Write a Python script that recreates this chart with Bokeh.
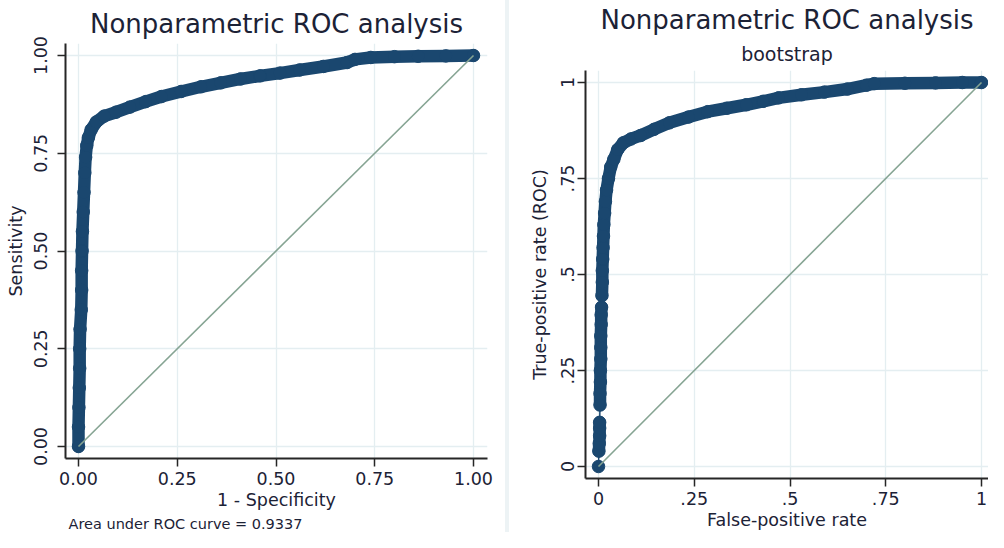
from bokeh.plotting import figure
from bokeh.models import FixedTicker, Title, Spacer, Range1d
from bokeh.layouts import row
from bokeh.embed import file_html
from bokeh.resources import INLINE

# ---------------- data ----------------
left_fpr = [0.000, 0.000, 0.001, 0.002, 0.003, 0.003, 0.004, 0.007, 0.008, 0.008, 0.009,
            0.010, 0.012, 0.014, 0.016, 0.018, 0.021, 0.025, 0.032, 0.045, 0.065, 0.095,
            0.130, 0.170, 0.210, 0.260, 0.310, 0.360, 0.410, 0.460, 0.510, 0.560, 0.620,
            0.680, 0.700, 0.740, 0.800, 0.860, 0.930, 1.000]
left_tpr = [0.000, 0.050, 0.100, 0.150, 0.200, 0.250, 0.300, 0.350, 0.400, 0.450, 0.500,
            0.550, 0.600, 0.650, 0.700, 0.740, 0.770, 0.790, 0.810, 0.830, 0.845, 0.855,
            0.868, 0.882, 0.895, 0.908, 0.920, 0.930, 0.940, 0.948, 0.955, 0.963, 0.972,
            0.982, 0.990, 0.995, 0.997, 0.998, 0.999, 1.000]

right_fpr = [0.000,
             0.001, 0.002, 0.003, 0.003, 0.003,
             0.004, 0.004, 0.005, 0.005, 0.006, 0.006, 0.006, 0.007, 0.007, 0.008,
             0.009, 0.010, 0.010, 0.011, 0.012, 0.013, 0.014, 0.016, 0.018, 0.021,
             0.026, 0.032, 0.040, 0.050, 0.065, 0.085, 0.110, 0.145, 0.185, 0.235,
             0.285, 0.335, 0.386, 0.430, 0.470, 0.530, 0.590, 0.650, 0.700, 0.720,
             0.800, 0.880, 0.950, 1.000]
right_tpr = [0.000,
             0.040, 0.060, 0.080, 0.100, 0.115,
             0.160, 0.190, 0.220, 0.250, 0.280, 0.310, 0.340, 0.370, 0.395, 0.415,
             0.445, 0.480, 0.510, 0.540, 0.570, 0.600, 0.630, 0.660, 0.690, 0.720,
             0.750, 0.780, 0.800, 0.825, 0.843, 0.853, 0.862, 0.878, 0.895, 0.910,
             0.924, 0.933, 0.942, 0.951, 0.960, 0.968, 0.975, 0.983, 0.993, 0.997,
             0.998, 0.999, 1.000, 1.000]
# cluster id of each bootstrap point (runs of points that touch each other)
right_cluster = [0,
                 1, 1, 1, 1, 1,
                 2, 2, 2, 2, 2, 2, 2, 2, 2, 2,
                 3, 3, 3, 3, 3, 3, 3, 3, 3, 3,
                 3, 3, 3, 3, 3, 3, 3, 3, 3, 3,
                 3, 3, 3, 3, 3, 3, 3, 3, 3, 3,
                 3, 3, 3, 3]

ticks = [0, 0.25, 0.5, 0.75, 1.0]
left_tick_labels = ["0.00", "0.25", "0.50", "0.75", "1.00"]
right_tick_labels = ["0", ".25", ".5", ".75", "1"]
diag = [0, 1]
auc_note = "Area under ROC curve = 0.9337"

# ---------------- style ----------------
FONT = "DejaVu Sans"
NAVY = "#1a476f"
DIAG = "#86a493"
GRID = "#e4eef1"
AXIS = "#262626"
TEXT = "#1c2236"


def base_style(p, labels, xlab, ylab, ystandoff, ylabstandoff):
    p.frame_align = False
    p.outline_line_color = None
    p.background_fill_color = "white"
    p.border_fill_color = "white"
    p.xaxis.ticker = FixedTicker(ticks=ticks)
    p.yaxis.ticker = FixedTicker(ticks=ticks)
    over = {t: l for t, l in zip(ticks, labels)}
    p.xaxis.major_label_overrides = over
    p.yaxis.major_label_overrides = over
    p.xgrid.ticker = FixedTicker(ticks=ticks)
    p.ygrid.ticker = FixedTicker(ticks=ticks)
    for g in (p.xgrid, p.ygrid):
        g.grid_line_color = GRID
        g.grid_line_width = 1.3
    for ax in (p.xaxis, p.yaxis):
        ax.axis_line_color = AXIS
        ax.axis_line_width = 2
        ax.major_tick_line_color = AXIS
        ax.major_tick_line_width = 1.5
        ax.major_tick_out = 8
        ax.major_tick_in = 0
        ax.minor_tick_line_color = None
        ax.major_label_text_font = FONT
        ax.major_label_text_font_size = "17.5px"
        ax.major_label_text_color = TEXT
        ax.axis_label_text_font = FONT
        ax.axis_label_text_font_size = "17.5px"
        ax.axis_label_text_font_style = "normal"
        ax.axis_label_text_color = TEXT
    p.xaxis.axis_label = xlab
    p.yaxis.axis_label = ylab
    p.xaxis.major_label_standoff = 5
    p.xaxis.axis_label_standoff = 2
    p.yaxis.major_label_standoff = ystandoff
    p.yaxis.axis_label_standoff = ylabstandoff
    p.yaxis.major_label_orientation = "vertical"


# ---------------- left panel ----------------
p1 = figure(width=505, height=532, output_backend="svg", toolbar_location=None,
            x_range=Range1d(-13 / 395, 409 / 395), y_range=Range1d(-12 / 391, 1 + 12 / 391),
            min_border_left=65, min_border_right=18, min_border_top=43, min_border_bottom=74)
base_style(p1, left_tick_labels, "1 - Specificity", "Sensitivity", 11, 5)
p1.add_layout(Title(text=auc_note, align="left", offset=3, standoff=2,
                    text_font=FONT, text_font_size="14.5px", text_font_style="normal",
                    text_color=TEXT), "below")
p1.add_layout(Title(text="Nonparametric ROC analysis", align="center", standoff=9,
                    text_font=FONT, text_font_size="26px", text_font_style="normal",
                    text_color=TEXT), "above")
p1.line(left_fpr, left_tpr, line_color=NAVY, line_width=12.5, line_join="round", line_cap="round")
p1.scatter(left_fpr, left_tpr, size=12.5, fill_color=NAVY, line_color=NAVY)
p1.line(diag, diag, line_color=DIAG, line_width=1.6)

# ---------------- right panel ----------------
p2 = figure(width=479, height=532, output_backend="svg", toolbar_location=None,
            x_range=Range1d(-13 / 383, 390 / 383), y_range=Range1d(-12 / 384, 1 + 12 / 384),
            min_border_left=76, min_border_right=0, min_border_top=70, min_border_bottom=54)
base_style(p2, right_tick_labels, "False-positive rate", "True-positive rate (ROC)", 4, 8)
p2.add_layout(Title(text="bootstrap", align="center", standoff=12,
                    text_font=FONT, text_font_size="19px", text_font_style="normal",
                    text_color=TEXT), "above")
p2.add_layout(Title(text="Nonparametric ROC analysis", align="center", standoff=0,
                    text_font=FONT, text_font_size="26px", text_font_style="normal",
                    text_color=TEXT), "above")
# thin connecting line through all points
p2.line(right_fpr, right_tpr, line_color=NAVY, line_width=1.5)
# thick band for each run of touching points
xs, ys = [], []
for c in sorted(set(right_cluster)):
    xs.append([x for x, k in zip(right_fpr, right_cluster) if k == c])
    ys.append([y for y, k in zip(right_tpr, right_cluster) if k == c])
p2.multi_line(xs, ys, line_color=NAVY, line_width=12.5, line_join="round", line_cap="round")
p2.scatter(right_fpr, right_tpr, size=12.5, fill_color=NAVY, line_color=NAVY)
p2.line(diag, diag, line_color=DIAG, line_width=1.6)

divider = Spacer(width=4, height=532, styles={"background-color": "#edf3f5"})

layout = row(p1, divider, p2)
open("out.html", "w").write(file_html(layout, INLINE))
